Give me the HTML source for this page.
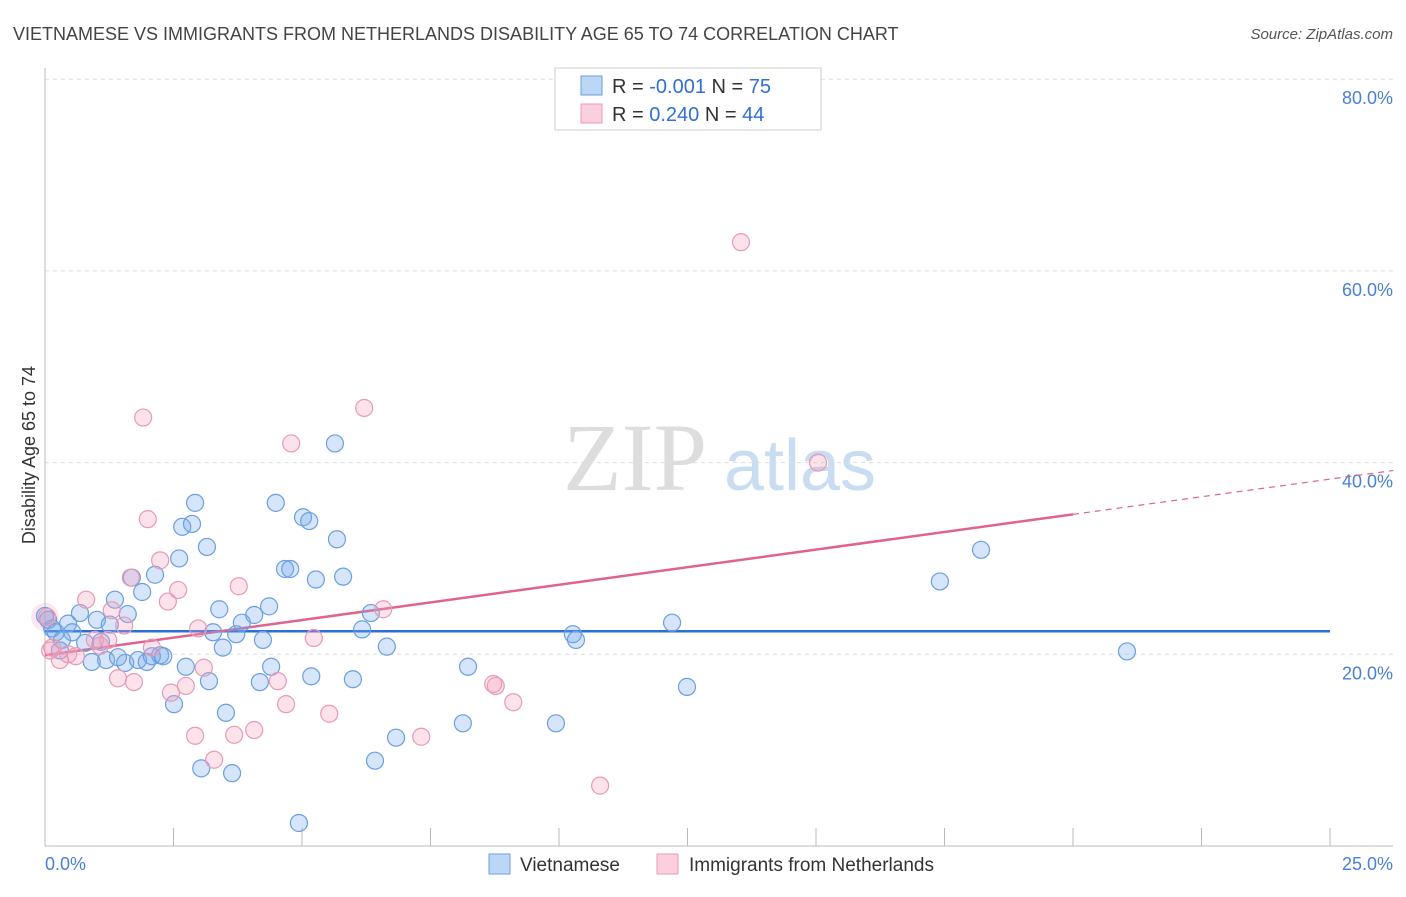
<!DOCTYPE html>
<html><head><meta charset="utf-8"><style>
body{margin:0;background:#fff;font-family:"Liberation Sans",sans-serif;}
</style></head><body>
<svg width="1406" height="892" xmlns="http://www.w3.org/2000/svg">
<text x="13" y="40" font-size="18" fill="#444">VIETNAMESE VS IMMIGRANTS FROM NETHERLANDS DISABILITY AGE 65 TO 74 CORRELATION CHART</text>
<text x="1393" y="39" font-size="15" fill="#555" font-style="italic" text-anchor="end">Source: ZipAtlas.com</text>
<g>
<text x="635" y="490" font-size="96" fill="#ddd" font-family="Liberation Serif" text-anchor="middle">ZIP</text>
<text x="800" y="490" font-size="72" fill="#c8dcf2" text-anchor="middle">atlas</text>
</g>
<g id="grid"></g>
<g id="axes"></g>
<g id="trend"></g>
<g id="pts"></g>
<text x="35" y="455" font-size="18" fill="#333" text-anchor="middle" transform="rotate(-90 35 455)">Disability Age 65 to 74</text>
<g>
<rect x="555" y="68" width="266" height="62" fill="#fff" stroke="#ccc"/>
<rect x="581" y="76" width="21" height="19" fill="#bcd6f5" stroke="#6a9fe0"/>
<rect x="581" y="104" width="21" height="19" fill="#fbcfdc" stroke="#e89ab5"/>
<text x="612" y="93" font-size="20" fill="#333">R = <tspan fill="#2f6fd6">-0.001</tspan>   N = <tspan fill="#2f6fd6">75</tspan></text>
<text x="612" y="121" font-size="20" fill="#333">R =  <tspan fill="#2f6fd6"> 0.240</tspan>   N = <tspan fill="#2f6fd6">44</tspan></text>
</g>
<g>
<rect x="489" y="854" width="21" height="20" fill="#bcd6f5" stroke="#6a9fe0"/>
<text x="520" y="871" font-size="19" fill="#333">Vietnamese</text>
<rect x="657" y="854" width="21" height="20" fill="#fbcfdc" stroke="#e89ab5"/>
<text x="689" y="871" font-size="19" fill="#333">Immigrants from Netherlands</text>
</g>
</svg>
<script>
const blueX=[0.06,0.14,0.21,0.33,0.45,0.53,0.68,0.78,0.91,1.01,1.09,1.19,1.26,1.36,1.42,1.56,1.61,1.69,1.81,1.89,1.98,2.08,2.14,2.24,2.30,2.51,2.61,2.67,2.74,2.86,2.92,3.04,3.15,3.19,3.27,3.39,3.46,3.52,3.64,3.72,3.83,4.07,4.18,4.24,4.36,4.40,4.49,4.67,4.77,4.94,5.02,5.14,5.18,5.27,5.64,5.68,5.80,5.99,6.17,6.34,6.42,6.65,6.83,8.13,8.23,9.94,10.27,10.33,12.20,12.49,17.41,18.21,21.05,0.0,0.29];
const blueY=[23.6,22.7,22.3,21.5,23.2,22.3,24.3,21.2,19.2,23.6,21.3,19.4,23.1,25.7,19.7,19.1,24.2,28.0,19.4,26.5,19.2,19.8,28.3,19.9,19.8,14.8,30.0,33.3,18.7,33.6,35.8,8.1,31.2,17.2,22.3,24.7,20.7,13.9,7.6,22.1,23.3,24.1,17.1,21.5,25.0,18.7,35.8,28.9,28.9,2.4,34.3,33.9,17.7,27.8,42.0,32.0,28.1,17.4,22.6,24.3,8.9,20.8,11.3,12.8,18.7,12.8,22.1,21.5,23.3,16.6,27.6,30.9,20.3,24.0,20.4];
const pinkX=[0.04,0.14,0.29,0.45,0.60,0.80,0.97,1.07,1.23,1.30,1.42,1.54,1.67,1.73,1.91,2.00,2.08,2.24,2.39,2.45,2.59,2.74,2.92,2.98,3.09,3.29,3.68,3.77,4.07,4.53,4.69,4.79,5.23,5.53,6.21,6.58,7.32,8.72,8.77,9.11,10.80,13.54,15.04,0.10];
const pinkY=[23.9,20.7,19.4,20.0,19.8,25.7,21.5,20.9,21.5,24.6,17.5,23.0,28.0,17.1,44.7,34.1,20.7,29.8,25.5,16.0,26.7,16.7,11.5,22.7,18.6,9.0,11.6,27.1,12.1,17.2,14.8,42.0,21.7,13.8,45.7,24.7,11.4,16.9,16.7,15.0,6.3,63.0,40.0,20.4];
const yTicks=[20,40,60,80];
const xTickLabels=["0.0%","25.0%"];
const blueTrend=[22.4,22.4];
const pinkTrend=[19.9,34.6];
const NS="http://www.w3.org/2000/svg";
const sx=v=>45+v/25*1285, sy=v=>846-v*9.585;
function mk(tag,attrs,parent){const e=document.createElementNS(NS,tag);for(const k in attrs)e.setAttribute(k,attrs[k]);parent.appendChild(e);return e;}
const grid=document.getElementById('grid'),axes=document.getElementById('axes'),tr=document.getElementById('trend'),pts=document.getElementById('pts');
yTicks.forEach(t=>{
 const l=mk('line',{x1:45,x2:1393,y1:sy(t),y2:sy(t),stroke:'#ddd','stroke-dasharray':'4,4'},grid);
 
 
 const tx=mk('text',{x:1393,y:sy(t)+25,'font-size':18,fill:'#4a7fd6','text-anchor':'end'},axes);
 tx.textContent=t.toFixed(1)+'%';
 
 
});
let a=mk('line',{x1:45,x2:45,y1:68,y2:846,stroke:'#bbb'},axes);


a=mk('line',{x1:45,x2:1393,y1:846,y2:846,stroke:'#bbb'},axes);


for(let i=0;i<=10;i++){
 const t=mk('line',{x1:sx(i*2.5),x2:sx(i*2.5),y1:828,y2:846,stroke:'#bbb'},axes);
 
 
}
[[0,'start',45],[25,'end',1393]].forEach((d,i)=>{
 const tx=mk('text',{x:d[2],y:870,'font-size':18,fill:'#4a7fd6','text-anchor':d[1]},axes);
 tx.textContent=xTickLabels[i];
 
 
});
function dot(x,y,fill,stroke){
 const c=mk('circle',{cx:sx(x),cy:sy(y),r:8.5,fill:fill,stroke:stroke,'stroke-width':1.2},pts);
 
 
}
mk('circle',{cx:45,cy:617,r:14,fill:'rgba(240,160,190,0.25)',stroke:'none'},pts);
blueX.forEach((x,i)=>dot(x,blueY[i],'rgba(120,170,235,0.3)','#6a9fe0'));
pinkX.forEach((x,i)=>dot(x,pinkY[i],'rgba(245,160,190,0.3)','#e89ab5'));
let ln=mk('line',{x1:sx(0),x2:sx(25),y1:sy(blueTrend[0]),y2:sy(blueTrend[1]),stroke:'#2a6fdb','stroke-width':2.5},tr);


const ps=(pinkTrend[1]-pinkTrend[0])/20;
ln=mk('line',{x1:sx(0),x2:sx(20),y1:sy(pinkTrend[0]),y2:sy(pinkTrend[1]),stroke:'#e0628f','stroke-width':2.5},tr);


ln=mk('line',{x1:sx(20),x2:sx(26.23),y1:sy(pinkTrend[1]),y2:sy(pinkTrend[0]+ps*26.23),stroke:'#e0628f','stroke-width':1.2,'stroke-dasharray':'6,5'},tr);


</script>
</body></html>
